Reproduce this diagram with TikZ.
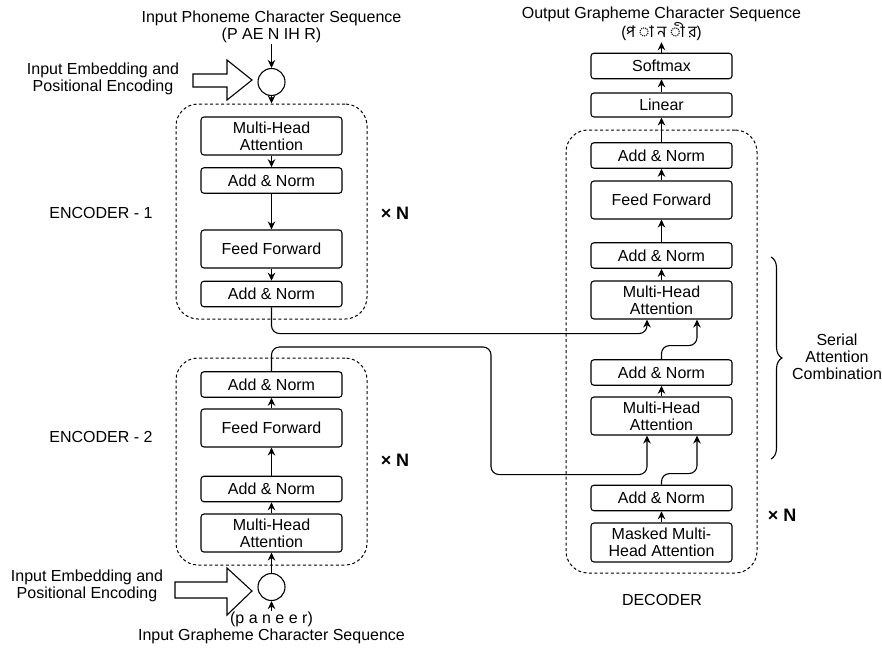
\documentclass[tikz,border=0pt]{standalone}
\usepackage{fontspec}
\setmainfont{Liberation Sans}
\newfontfamily\bnfont[Script=Bengali]{Hind Siliguri}
\usetikzlibrary{arrows.meta,calc,decorations.pathreplacing}
\begin{document}
\begin{tikzpicture}[x=1pt,y=-1pt,
  font=\fontsize{16}{17}\selectfont,
  blk/.style={draw, rounded corners=3pt, line width=1.1pt, minimum width=141pt, inner sep=0pt, align=center, fill=white},
  short/.style={blk, minimum height=25.5pt},
  tall/.style={blk, minimum height=38pt},
  dashbox/.style={draw, dash pattern=on 3pt off 2.5pt, rounded corners=22pt, line width=1pt, inner sep=0pt},
  arr/.style={-{Stealth[length=8pt,width=7.5pt]}, line width=1.1pt},
  conn/.style={arr, rounded corners=8pt},
  sumc/.style={draw, circle, line width=1.1pt, minimum size=27pt, inner sep=0pt},
  lbl/.style={align=center, inner sep=1pt},
  xn/.style={font=\fontsize{18}{20}\selectfont\bfseries},
  barrow/.style={draw, fill=white, line width=1.1pt}
]
\useasboundingbox (0,0) rectangle (882,648);

% ---------------- Encoder 1 ----------------
\node[lbl] (intop) at (271.5,27) {Input Phoneme Character Sequence\\(P AE N IH R)};
\node[sumc] (c1) at (271.5,82) {};
\node[lbl] (emb1) at (103,78.5) {Input Embedding and\\Positional Encoding};
\draw[barrow] (193,74) -- (227,74) -- (227,60) -- (252,80) -- (227,100) -- (227,87) -- (193,87) -- cycle;
\node[dashbox, minimum width=191pt, minimum height=215pt] (enc1) at (271.5,211.5) {};
\node[tall] (e1mha) at (271.5,136) {Multi-Head\\Attention};
\node[short] (e1an1) at (271.5,180.5) {Add \& Norm};
\node[tall] (e1ff) at (271.5,249) {Feed Forward};
\node[short] (e1an2) at (271.5,294) {Add \& Norm};
\node[lbl] (lab1) at (101,213) {ENCODER - 1};
\node[xn] (n1) at (395,213) {× N};
\draw[arr] (intop.south) -- (c1.north);
\draw[arr] (c1.south) -- (enc1.north);
\draw[arr] (e1mha.south) -- (e1an1.north);
\draw[arr] (e1an1.south) -- (e1ff.north);
\draw[arr] (e1ff.south) -- (e1an2.north);

% ---------------- Encoder 2 ----------------
\node[dashbox, minimum width=191pt, minimum height=207pt] (enc2) at (271.5,461.5) {};
\node[short] (e2an2) at (271.5,384.5) {Add \& Norm};
\node[tall] (e2ff) at (271.5,428) {Feed Forward};
\node[short] (e2an1) at (271.5,489) {Add \& Norm};
\node[tall] (e2mha) at (271.5,533) {Multi-Head\\Attention};
\node[sumc] (c2) at (271.5,587) {};
\node[lbl] (inbot) at (271.5,628) {(p a n e e r)\\Input Grapheme Character Sequence};
\node[lbl] (emb2) at (87,585.5) {Input Embedding and\\Positional Encoding};
\draw[barrow] (175,582) -- (227,582) -- (227,568) -- (252,591) -- (227,615) -- (227,598) -- (175,598) -- cycle;
\node[lbl] (lab2) at (101,437) {ENCODER - 2};
\node[xn] (n2) at (395,460) {× N};
\draw[arr] (inbot.north) -- (c2.south);
\draw[arr] (c2.north) -- (e2mha.south);
\draw[arr] (e2mha.north) -- (e2an1.south);
\draw[arr] (e2an1.north) -- (e2ff.south);
\draw[arr] (e2ff.north) -- (e2an2.south);

% ---------------- Decoder ----------------
\node[lbl] (outtop) at (661.5,24) {Output Grapheme Character Sequence\\{\bnfont (প ◌া ন ◌ী র)}};
\node[short] (soft) at (661.5,66) {Softmax};
\node[short, minimum height=24pt] (lin) at (661.5,105) {Linear};
\node[dashbox, minimum width=191pt, minimum height=443pt] (dec) at (661.5,351.5) {};
\node[short] (dan3) at (661.5,155.5) {Add \& Norm};
\node[tall] (dff) at (661.5,200) {Feed Forward};
\node[short] (dan2) at (661.5,255.5) {Add \& Norm};
\node[tall] (dmha2) at (661.5,300) {Multi-Head\\Attention};
\node[short] (dan1b) at (661.5,372.5) {Add \& Norm};
\node[tall] (dmha1) at (661.5,416) {Multi-Head\\Attention};
\node[short] (dan1) at (661.5,498) {Add \& Norm};
\node[tall, minimum height=39pt] (dmask) at (661.5,542.5) {Masked Multi-\\Head Attention};
\node[lbl] (labd) at (662,600) {DECODER};
\node[xn] (n3) at (782,515) {× N};

\coordinate (m2a) at ($(dmha2.south)+(-14.5,0)$);
\coordinate (m2b) at ($(dmha2.south)+(35.5,0)$);
\coordinate (m1a) at ($(dmha1.south)+(-14.5,0)$);
\coordinate (m1b) at ($(dmha1.south)+(35.5,0)$);

\draw[arr] (soft.north) -- (outtop.south);
\draw[arr] (lin.north) -- (soft.south);
\draw[arr] (dan3.north) -- (lin.south);
\draw[arr] (dff.north) -- (dan3.south);
\draw[arr] (dan2.north) -- (dff.south);
\draw[arr] (dmha2.north) -- (dan2.south);
\draw[arr] (dmha1.north) -- (dan1b.south);
\draw[arr] (dmask.north) -- (dan1.south);
\draw[conn] (dan1b.north) |- ($(m2b)+(0,26)$) -- (m2b);
\draw[conn] (dan1.north) |- ($(m1b)+(0,38)$) -- (m1b);

% cross connections
\draw[conn] (e1an2.south) |- ($(m2a)+(0,14)$) -- (m2a);
\draw[conn] (e2an2.north) |- (491,347) |- ($(m1a)+(0,39)$) -- (m1a);

% brace
\draw[decorate, decoration={brace, amplitude=11pt}, line width=1.1pt] (771,257) -- (771,459);
\node[lbl] (sac) at (837,357) {Serial\\Attention\\Combination};
\end{tikzpicture}
\end{document}
